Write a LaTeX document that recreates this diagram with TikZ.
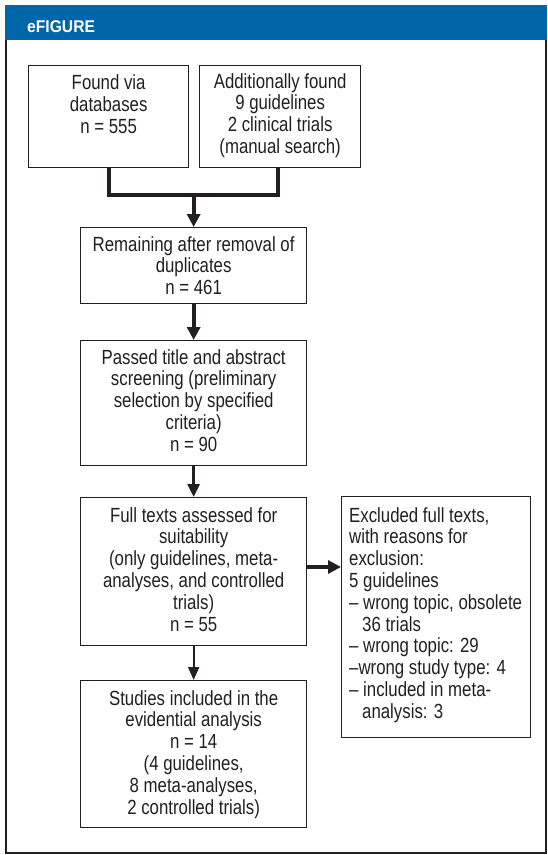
\documentclass[tikz,border=0pt]{standalone}
\usepackage{fontspec}
\setmainfont{Liberation Sans}[FakeStretch=0.82]
\newfontfamily\headfont{Liberation Sans}[FakeStretch=0.92]
\usetikzlibrary{arrows.meta}
\definecolor{headblue}{RGB}{0,102,170}
\definecolor{ink}{RGB}{35,31,32}
\tikzset{
  boxframe/.style={draw=ink, line width=1.3pt, rectangle, inner sep=0pt, anchor=north west},
  boxtext/.style={align=center, inner sep=0pt, anchor=north, font=\fontsize{20.5}{21.8}\selectfont, text=ink},
  lefttext/.style={align=left, inner sep=0pt, anchor=north west, font=\fontsize{20.5}{21.8}\selectfont, text=ink},
  thickcon/.style={draw=ink, line width=4pt},
  thickarrow/.style={draw=ink, line width=4pt, -{Triangle[length=13pt,width=13pt]}},
  midarrow/.style={draw=ink, line width=3pt, -{Triangle[length=13pt,width=12pt]}},
  thinarrow/.style={draw=ink, line width=2pt, -{Triangle[length=13pt,width=11pt]}},
}
\begin{document}
\begin{tikzpicture}[x=1pt,y=-1pt]
\useasboundingbox (0,0) rectangle (547,855);
% header and frame
\fill[headblue] (5,5) rectangle (547,40);
\node[anchor=base west, inner sep=0pt, text=white, font=\headfont\fontsize{17}{19}\selectfont\bfseries] (title) at (27,32) {eFIGURE};
\draw[ink, line width=2pt] (6,40) -- (6,853) -- (546,853) -- (546,40);
% boxes
\node[boxframe, minimum width=160pt, minimum height=102pt] (b1) at (28,65) {};
\node[boxtext] (t1) at ([yshift=-9.5pt]b1.north) {Found via\\databases\\n = 555};
\node[boxframe, minimum width=161pt, minimum height=102pt] (b2) at (199,65) {};
\node[boxtext] (t2) at ([yshift=-8pt]b2.north) {Additionally found\\9 guidelines\\2 clinical trials\\(manual search)};
\node[boxframe, minimum width=226pt, minimum height=76pt] (b3) at (80,227) {};
\node[boxtext] (t3) at ([yshift=-9pt]b3.north) {Remaining after removal of\\duplicates\\n = 461};
\node[boxframe, minimum width=226pt, minimum height=125pt] (b4) at (80,340) {};
\node[boxtext] (t4) at ([yshift=-9pt]b4.north) {Passed title and abstract\\screening (preliminary\\selection by specified\\criteria)\\n = 90};
\node[boxframe, minimum width=226pt, minimum height=148pt] (b5) at (80,497) {};
\node[boxtext] (t5) at ([yshift=-10pt]b5.north) {Full texts assessed for\\suitability\\(only guidelines, meta-\\analyses, and controlled\\trials)\\n = 55};
\node[boxframe, minimum width=226pt, minimum height=147pt] (b6) at (80,680) {};
\node[boxtext] (t6) at ([yshift=-10pt]b6.north) {Studies included in the\\evidential analysis\\n = 14\\(4 guidelines,\\8 meta-analyses,\\2 controlled trials)};
\node[boxframe, minimum width=189pt, minimum height=241pt] (b7) at (341,496) {};
\node[lefttext] (t7) at ([xshift=8pt,yshift=-11pt]b7.north west) {Excluded full texts,\\with reasons for\\exclusion:\\5 guidelines\\– wrong topic, obsolete\\\hspace*{13pt}36 trials\\– wrong topic: 29\\–wrong study type: 4\\– included in meta-\\\hspace*{13pt}analysis: 3};
% connectors
\coordinate (j) at (b3.north |- 0,195);
\draw[thickcon, line join=miter] (b1.south -| 109,0) |- (j) -| (b2.south -| 278,0);
\draw[thickarrow] (j) -- (b3.north);
\draw[thickarrow] (b3.south) -- (b4.north);
\draw[midarrow] (b4.south) -- (b5.north);
\draw[thinarrow] (b5.south) -- (b6.north);
\draw[thickarrow] (b5.east |- 0,567) -- (b7.west |- 0,567);
\end{tikzpicture}
\end{document}
